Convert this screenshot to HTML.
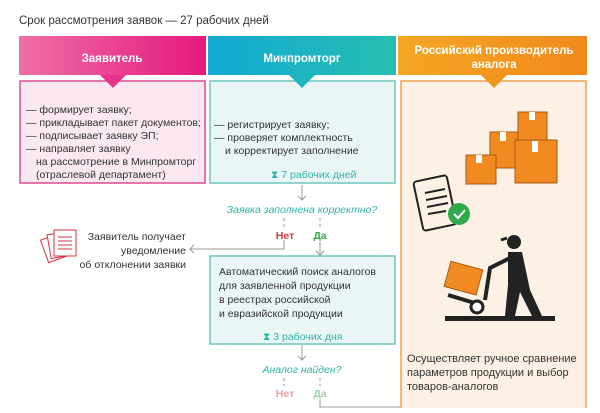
<!DOCTYPE html>
<html><head><meta charset="utf-8"><style>
body{margin:0;background:#fff;width:600px;height:408px;overflow:hidden;font-family:"Liberation Sans",sans-serif}
</style></head><body>
<svg width="600" height="408" viewBox="0 0 600 408" xmlns="http://www.w3.org/2000/svg" font-family="Liberation Sans, sans-serif">
<defs>
<linearGradient id="gp" x1="0" x2="1"><stop offset="0" stop-color="#ef6fa6"/><stop offset="1" stop-color="#e5197f"/></linearGradient>
<linearGradient id="gt" x1="0" x2="1"><stop offset="0" stop-color="#13a9d3"/><stop offset="1" stop-color="#25bfb0"/></linearGradient>
<linearGradient id="go" x1="0" x2="1"><stop offset="0" stop-color="#f5a623"/><stop offset="1" stop-color="#f08a1c"/></linearGradient>
</defs>
<text x="19" y="24" font-size="11.5" fill="#333">Срок рассмотрения заявок — 27 рабочих дней</text>
<rect x="19" y="36" width="187" height="39" fill="url(#gp)"/>
<rect x="208" y="36" width="188" height="39" fill="url(#gt)"/>
<rect x="398" y="36" width="189" height="39" fill="url(#go)"/>
<text x="112" y="62" font-size="11.5" font-weight="bold" fill="#fff" text-anchor="middle">Заявитель</text>
<text x="302" y="62" font-size="11.5" font-weight="bold" fill="#fff" text-anchor="middle">Минпромторг</text>
<text x="494" y="54" font-size="11.5" font-weight="bold" fill="#fff" text-anchor="middle">Российский производитель</text>
<text x="494" y="68" font-size="11.5" font-weight="bold" fill="#fff" text-anchor="middle">аналога</text>
<rect x="20" y="81" width="185" height="102" fill="#fce8f1" stroke="#dd4a94" stroke-width="1.5"/>
<rect x="210" y="81" width="185" height="102" fill="#eaf6f5" stroke="#6fc7c0" stroke-width="1.5"/>
<rect x="401" y="81" width="185" height="330" fill="#fdf0e4" stroke="#f0a050" stroke-width="1.5"/>
<polygon points="100,75 126,75 113,88" fill="#e8338c"/>
<polygon points="289,75 315,75 302,88" fill="#1fb7bf"/>
<polygon points="481,75 507,75 494,88" fill="#f29520"/>
<g font-size="10.5" fill="#333">
<text x="26" y="113">— формирует заявку;</text>
<text x="26" y="126">— прикладывает пакет документов;</text>
<text x="26" y="139">— подписывает заявку ЭП;</text>
<text x="26" y="152">— направляет заявку</text>
<text x="36" y="165">на рассмотрение в Минпромторг</text>
<text x="36" y="178">(отраслевой департамент)</text>
<text x="214" y="128">— регистрирует заявку;</text>
<text x="214" y="141">— проверяет комплектность</text>
<text x="225" y="154">и корректирует заполнение</text>
<text x="271" y="178" fill="#2fb3aa">⧗ 7 рабочих дней</text>
</g>
<g stroke="#999" stroke-width="1" fill="none">
<line x1="302" y1="185" x2="302" y2="200"/><polyline points="298,196 302,200 306,196"/>
<line x1="284" y1="218" x2="284" y2="228" stroke-dasharray="3,3"/>
<line x1="320" y1="218" x2="320" y2="228" stroke-dasharray="3,3"/>
<polyline points="284,240 284,249 190,249"/><polyline points="194,245 190,249 194,253"/>
<line x1="320" y1="242" x2="320" y2="255"/><polyline points="316,251 320,255 324,251"/>
<line x1="302" y1="345" x2="302" y2="360"/><polyline points="298,356 302,360 306,356"/>
<line x1="284" y1="378" x2="284" y2="386" stroke-dasharray="3,3"/>
<line x1="320" y1="378" x2="320" y2="386" stroke-dasharray="3,3"/>
<polyline points="320,400 320,407 400,407"/>
</g>
<text x="302" y="213" font-size="10.5" font-style="italic" fill="#2fb3aa" text-anchor="middle">Заявка заполнена корректно?</text>
<text x="285" y="239" font-size="10.5" font-weight="bold" fill="#d9343f" text-anchor="middle">Нет</text>
<text x="320" y="239" font-size="10.5" font-weight="bold" fill="#3aa948" text-anchor="middle">Да</text>
<rect x="210" y="256" width="185" height="88" fill="#eaf6f5" stroke="#6fc7c0" stroke-width="1.5"/>
<g font-size="10.5" fill="#333">
<text x="219" y="275">Автоматический поиск аналогов</text>
<text x="219" y="289">для заявленной продукции</text>
<text x="219" y="303">в реестрах российской</text>
<text x="219" y="317">и евразийской продукции</text>
<text x="263" y="340" fill="#2fb3aa">⧗ 3 рабочих дня</text>
<text x="186" y="240" text-anchor="end">Заявитель получает</text>
<text x="186" y="254" text-anchor="end">уведомление</text>
<text x="186" y="268" text-anchor="end">об отклонении заявки</text>
</g>
<g font-size="11" fill="#333">
<text x="407" y="362">Осуществляет ручное сравнение</text>
<text x="407" y="376">параметров продукции и выбор</text>
<text x="407" y="390">товаров-аналогов</text>
</g>
<text x="302" y="373" font-size="10.5" font-style="italic" fill="#2fb3aa" text-anchor="middle">Аналог найден?</text>
<text x="285" y="397" font-size="10.5" font-weight="bold" fill="#eea0a5" text-anchor="middle">Нет</text>
<text x="320" y="397" font-size="10.5" font-weight="bold" fill="#9fd3a5" text-anchor="middle">Да</text>
<g stroke="#d9343f" fill="#fff" stroke-width="1">
<rect x="44" y="236" width="20" height="24" transform="rotate(-20 54 248)"/>
<rect x="49" y="233" width="20" height="24" transform="rotate(-10 59 245)"/>
<rect x="54" y="230" width="22" height="26"/>
<line x1="58" y1="237" x2="72" y2="237"/><line x1="58" y1="241" x2="72" y2="241"/><line x1="58" y1="245" x2="72" y2="245"/><line x1="58" y1="249" x2="72" y2="249"/>
</g>
<g fill="#f28a22" stroke="#a85a10" stroke-width="1">
<rect x="490" y="132" width="28" height="36"/>
<rect x="518" y="112" width="29" height="28"/>
<rect x="466" y="155" width="30" height="29"/>
<rect x="515" y="140" width="42" height="43"/>
</g>
<g fill="#fff"><rect x="476" y="155" width="6" height="8"/><rect x="500" y="132" width="6" height="9"/><rect x="529" y="112" width="6" height="8"/><rect x="532" y="141" width="6" height="11"/></g>
<g stroke="#222" stroke-width="2" fill="none">
<rect x="418" y="178" width="34" height="50" rx="3" transform="rotate(-12 435 203)"/>
<line x1="425" y1="193" x2="445" y2="189"/><line x1="426" y1="200" x2="447" y2="196"/><line x1="427" y1="207" x2="448" y2="203"/><line x1="428" y1="214" x2="446" y2="211"/>
</g>
<circle cx="459" cy="214" r="11" fill="#2eaa4a"/>
<polyline points="454,214 458,218 465,210" stroke="#fff" stroke-width="2" fill="none"/>
<rect x="445" y="316" width="110" height="5" fill="#222"/>
<circle cx="514" cy="242" r="7" fill="#222"/>
<path d="M507 238 L501 240" stroke="#222" stroke-width="3"/>
<path d="M508 252 L522 252 L530 290 L542 316 L532 316 L520 292 L515 316 L505 316 L508 285 Z" fill="#222"/>
<path d="M510 258 L490 268 L485 300" stroke="#222" stroke-width="4" fill="none"/>
<g transform="rotate(15 463 278)"><rect x="447" y="265" width="33" height="26" fill="#f28a22" stroke="#a85a10"/></g>
<line x1="448" y1="295" x2="478" y2="304" stroke="#222" stroke-width="4"/>
<circle cx="477" cy="307" r="6" fill="#fff" stroke="#222" stroke-width="3"/>
</svg>
</body></html>
